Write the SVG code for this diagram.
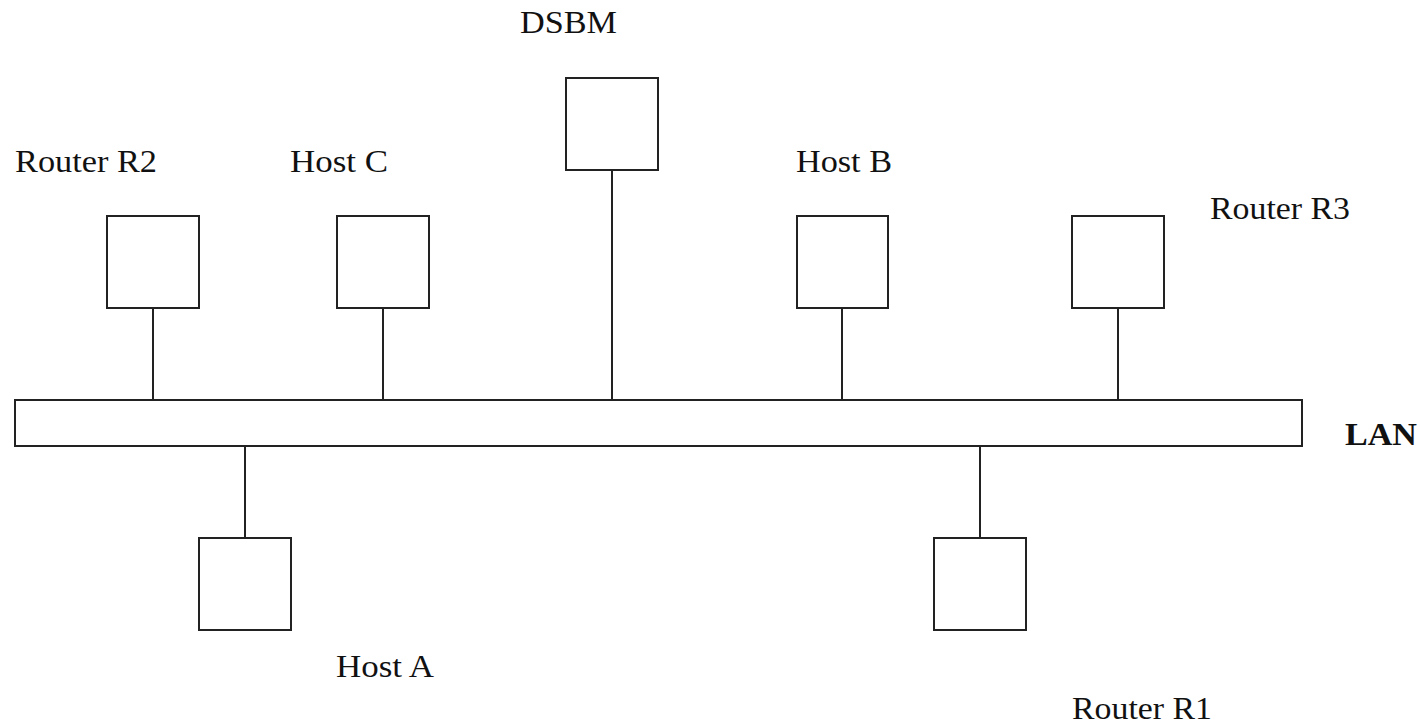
<svg xmlns="http://www.w3.org/2000/svg" width="1420" height="725" viewBox="0 0 1420 725">
<style>
.box{fill:#fff;stroke:#222;stroke-width:2}
.ln{stroke:#222;stroke-width:2;fill:none}
.lbl{font-family:"Liberation Serif","Times New Roman",serif;font-size:32px;fill:#111}
.b{font-weight:bold}
</style>
<rect width="1420" height="725" fill="#fff"/>
<g id="connectors">
<line class="ln" x1="153" y1="308" x2="153" y2="400"/>
<line class="ln" x1="383" y1="308" x2="383" y2="400"/>
<line class="ln" x1="612" y1="170" x2="612" y2="400"/>
<line class="ln" x1="842" y1="308" x2="842" y2="400"/>
<line class="ln" x1="1118" y1="308" x2="1118" y2="400"/>
<line class="ln" x1="245" y1="446" x2="245" y2="538"/>
<line class="ln" x1="980" y1="446" x2="980" y2="538"/>
</g>
<g id="lan">
<rect class="box" x="15" y="400" width="1287" height="46"/>
<text class="lbl b" x="1345" y="445" textLength="72" lengthAdjust="spacingAndGlyphs">LAN</text>
</g>
<g id="router-r2">
<rect class="box" x="107" y="216" width="92" height="92"/>
<text class="lbl" x="15" y="172" textLength="142" lengthAdjust="spacingAndGlyphs">Router R2</text>
</g>
<g id="host-c">
<rect class="box" x="337" y="216" width="92" height="92"/>
<text class="lbl" x="290" y="172" textLength="98" lengthAdjust="spacingAndGlyphs">Host C</text>
</g>
<g id="dsbm">
<rect class="box" x="566" y="78" width="92" height="92"/>
<text class="lbl" x="520" y="33" textLength="97" lengthAdjust="spacingAndGlyphs">DSBM</text>
</g>
<g id="host-b">
<rect class="box" x="797" y="216" width="91" height="92"/>
<text class="lbl" x="796" y="172" textLength="96" lengthAdjust="spacingAndGlyphs">Host B</text>
</g>
<g id="router-r3">
<rect class="box" x="1072" y="216" width="92" height="92"/>
<text class="lbl" x="1210" y="219" textLength="140" lengthAdjust="spacingAndGlyphs">Router R3</text>
</g>
<g id="host-a">
<rect class="box" x="199" y="538" width="92" height="92"/>
<text class="lbl" x="336" y="677" textLength="98" lengthAdjust="spacingAndGlyphs">Host A</text>
</g>
<g id="router-r1">
<rect class="box" x="934" y="538" width="92" height="92"/>
<text class="lbl" x="1072" y="719" textLength="140" lengthAdjust="spacingAndGlyphs">Router R1</text>
</g>
</svg>
